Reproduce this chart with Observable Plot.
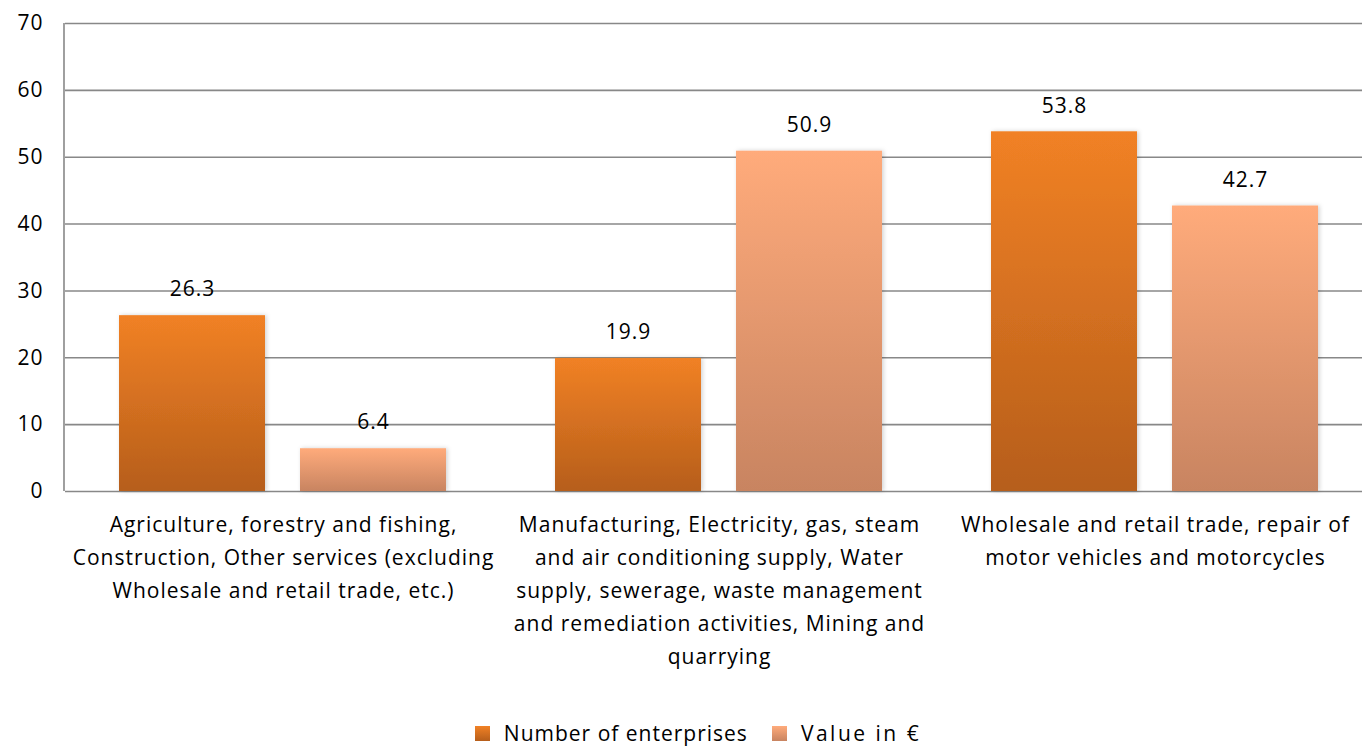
<!DOCTYPE html>
<html>
<head>
<meta charset="utf-8">
<script src="https://cdn.jsdelivr.net/npm/d3@7"></script>
<script src="https://cdn.jsdelivr.net/npm/@observablehq/plot@0.6"></script>
<style>
  html, body { margin: 0; padding: 0; background: #fff; overflow: hidden; }
  body { font-family: "Open Sans", Lato, sans-serif; color: #000; }
  #chart { width: 1362px; }
  #chart svg text { letter-spacing: 1px; }
  .legend { display: flex; justify-content: center; align-items: center; gap: 24px; font-size: 21px; letter-spacing: 1px; height: 42px; padding-top: 14px; padding-left: 34px; box-sizing: border-box; }
  .legend .item { display: flex; align-items: center; gap: 14px; }
  .legend .item:nth-child(2) span:last-child { letter-spacing: 2.5px; }
  .legend .sw { width: 15px; height: 15px; display: inline-block; }
</style>
</head>
<body>
<div id="chart"></div>
<script>
const categories = ["g1", "g2", "g3"];
const categoryLabels = [
  "Agriculture, forestry and fishing,\nConstruction, Other services (excluding\nWholesale and retail trade, etc.)",
  "Manufacturing, Electricity, gas, steam\nand air conditioning supply, Water\nsupply, sewerage, waste management\nand remediation activities, Mining and\nquarrying",
  "Wholesale and retail trade, repair of\nmotor vehicles and motorcycles"
];
const seriesKeys = ["n", "v"];
const seriesNames = ["Number of enterprises", "Value in €"];
const numberOfEnterprises = [26.3, 19.9, 53.8];
const valueInEuro = [6.4, 50.9, 42.7];
const yTicks = [0, 10, 20, 30, 40, 50, 60, 70];

const rows = [];
categories.forEach((c, i) => {
  rows.push({cat: c, series: "n", value: numberOfEnterprises[i]});
  rows.push({cat: c, series: "v", value: valueInEuro[i]});
});
const labelOf = new Map(categories.map((c, i) => [c, categoryLabels[i]]));

const font = "'Open Sans', Lato, sans-serif";

const plot = Plot.plot({
  width: 1362,
  height: 705,
  marginTop: 23,
  marginBottom: 214,
  marginLeft: 64,
  marginRight: -11,
  style: {fontFamily: font, color: "#000", background: "#fff", overflow: "visible"},
  fx: {domain: categories, padding: 0, label: null},
  x: {domain: seriesKeys, paddingInner: 0.192, paddingOuter: 0.295, axis: null},
  y: {domain: [0, 70], label: null, axis: null},
  marks: [
    Plot.ruleY(yTicks, {stroke: "#888", strokeWidth: 1.6}),
    Plot.barY(rows.filter(d => d.series === "n"), {fx: "cat", x: "series", y: "value", fill: "url(#gradN)"}),
    Plot.barY(rows.filter(d => d.series === "v"), {fx: "cat", x: "series", y: "value", fill: "url(#gradV)"}),
    Plot.text(rows, {fx: "cat", x: "series", y: "value", text: d => d.value.toFixed(1), dy: -26, fontSize: 21, fill: "#000"}),
    Plot.axisY({ticks: yTicks, tickSize: 0, tickPadding: 22, fontSize: 21, label: null, fill: "#000"}),
    Plot.axisFx({anchor: "bottom", tickSize: 0, tickPadding: 17, fontSize: 21, lineHeight: 1.57, label: null, tickFormat: d => labelOf.get(d), fill: "#000"})
  ]
});

const svg = d3.select(plot);
const defs = svg.insert("defs", ":first-child");
const gN = defs.append("linearGradient").attr("id", "gradN").attr("x1", 0).attr("y1", 0).attr("x2", 0).attr("y2", 1);
gN.append("stop").attr("offset", "0%").attr("stop-color", "#F18125");
gN.append("stop").attr("offset", "100%").attr("stop-color", "#B65E1B");
const gV = defs.append("linearGradient").attr("id", "gradV").attr("x1", 0).attr("y1", 0).attr("x2", 0).attr("y2", 1);
gV.append("stop").attr("offset", "0%").attr("stop-color", "#FFAB7B");
gV.append("stop").attr("offset", "100%").attr("stop-color", "#C88461");
const sh = defs.append("filter").attr("id", "shadow").attr("x", "-10%").attr("y", "-10%").attr("width", "120%").attr("height", "120%");
sh.append("feDropShadow").attr("dx", 1.5).attr("dy", 0).attr("stdDeviation", 2).attr("flood-color", "#000").attr("flood-opacity", 0.18);
svg.selectAll("rect").attr("filter", "url(#shadow)");

// left axis line via the y scale
const ys = plot.scale("y");
svg.append("line")
  .attr("x1", 64).attr("x2", 64)
  .attr("y1", ys.apply(0)).attr("y2", ys.apply(70))
  .attr("stroke", "#888").attr("stroke-width", 1.6);

document.getElementById("chart").appendChild(plot);

// legend
const legend = document.createElement("div");
legend.className = "legend";
const swatchBg = ["linear-gradient(#F18125, #B65E1B)", "linear-gradient(#FFAB7B, #C88461)"];
seriesNames.forEach((name, i) => {
  const item = document.createElement("div");
  item.className = "item";
  const sw = document.createElement("span");
  sw.className = "sw";
  sw.style.background = swatchBg[i];
  const t = document.createElement("span");
  t.textContent = name;
  item.appendChild(sw);
  item.appendChild(t);
  legend.appendChild(item);
});
document.getElementById("chart").appendChild(legend);
</script>
</body>
</html>
